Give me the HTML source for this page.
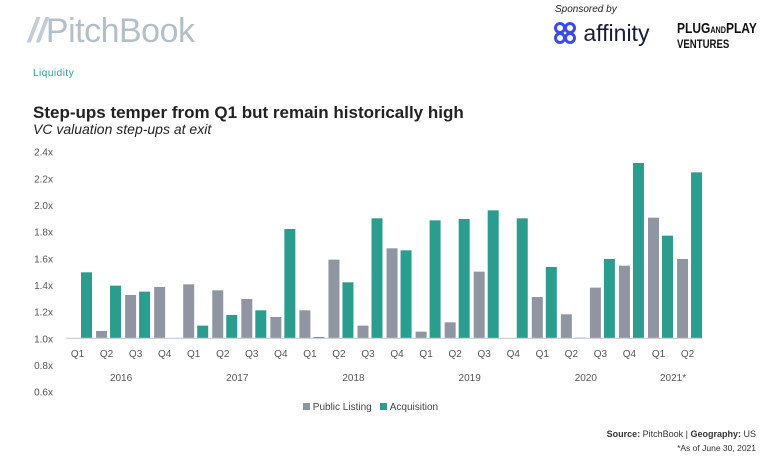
<!DOCTYPE html>
<html><head><meta charset="utf-8"><style>
body{margin:0;width:772px;height:465px;background:#fff;font-family:"Liberation Sans",sans-serif;position:relative;overflow:hidden}
.a{position:absolute;white-space:nowrap}
</style></head><body>
<div class="a" style="left:28px;top:12px;font-size:34px;color:#b4bfcc;letter-spacing:-0.5px"><span style="font-style:italic;font-weight:bold;color:#c3cbd6">//</span>PitchBook</div>
<div class="a" style="left:555px;top:4px;font-size:10px;font-style:italic;color:#222">Sponsored by</div>
<div class="a" style="left:553px;top:20px;font-size:23px;color:#1a1a3a">
<svg width="24" height="24" viewBox="0 0 24 24" style="vertical-align:-4px"><g fill="none" stroke="#3b4ce8" stroke-width="3"><circle cx="7" cy="7" r="4.5"/><circle cx="17" cy="7" r="4.5"/><circle cx="7" cy="17" r="4.5"/><circle cx="17" cy="17" r="4.5"/></g></svg> affinity</div>
<div class="a" style="left:677px;top:22px;font-size:15px;font-weight:bold;color:#111;line-height:14px;transform:scaleX(0.8);transform-origin:left">PLUG<span style="font-size:9px">AND</span>PLAY<br><span style="font-size:12px">VENTURES</span></div>
<div class="a" style="left:33px;top:68px;font-size:10px;color:#2a9d8f;letter-spacing:0.5px">Liquidity</div>
<div class="a" style="left:33px;top:103px;font-size:17px;font-weight:bold;color:#222">Step-ups temper from Q1 but remain historically high</div>
<div class="a" style="left:33px;top:121px;font-size:14px;font-style:italic;color:#222">VC valuation step-ups at exit</div>
<svg class="a" style="left:0;top:0" width="772" height="465" id="chart"></svg>
<div class="a" style="left:303px;top:402px;font-size:10px;color:#444">
<span><span style="display:inline-block;width:7px;height:7px;background:#8f96a1"></span> Public Listing</span>
<span style="margin-left:6px"><span style="display:inline-block;width:7px;height:7px;background:#2a9d8f"></span> Acquisition</span></div>
<div class="a" style="right:16px;top:429px;font-size:9px;color:#333;text-align:right"><b>Source:</b> PitchBook | <b>Geography:</b> US</div>
<div class="a" style="right:16px;top:443px;font-size:8.5px;color:#333">*As of June 30, 2021</div>
<script>
const quarters=["Q1","Q2","Q3","Q4","Q1","Q2","Q3","Q4","Q1","Q2","Q3","Q4","Q1","Q2","Q3","Q4","Q1","Q2","Q3","Q4","Q1","Q2"];
const years=["2016","2017","2018","2019","2020","2021*"];
const publicListing=[null,1.055,1.325,1.385,1.405,1.36,1.295,1.16,1.21,1.59,1.095,1.675,1.05,1.12,1.50,null,1.31,1.18,1.38,1.545,1.905,1.595];
const acquisition=[1.495,1.395,1.35,null,1.095,1.175,1.21,1.82,1.01,1.42,1.90,1.66,1.885,1.895,1.96,1.90,1.535,1.005,1.595,2.315,1.77,2.245];
const yTicks=[0.6,0.8,1.0,1.2,1.4,1.6,1.8,2.0,2.2,2.4];
const svg=document.getElementById('chart');const NS="http://www.w3.org/2000/svg";
const y=v=>338.3-(v-1)*133.3;
const step=29.05,x0=79.5;const cx=i=>x0+step*i;
function mk(t,a){const e=document.createElementNS(NS,t);for(const k in a)e.setAttribute(k,a[k]);svg.appendChild(e);return e;}
yTicks.forEach(v=>{const t=mk('text',{x:53,y:y(v)+4,'text-anchor':'end','font-size':10,fill:'#555'});t.textContent=v.toFixed(1)+'x';

});
const bw=11;
publicListing.forEach((v,i)=>{if(v==null)return;const r=mk('rect',{x:cx(i)-bw-1.5,y:y(v),width:bw,height:y(1)-y(v),fill:'#8f96a1'});

});
acquisition.forEach((v,i)=>{if(v==null)return;const r=mk('rect',{x:cx(i)+1.5,y:y(v),width:bw,height:y(1)-y(v),fill:'#2a9d8f'});

});
const bl=mk('line',{x1:66,x2:701,y1:y(1),y2:y(1),stroke:'#c9cdd2','stroke-width':1.2});


quarters.forEach((q,i)=>{const t=mk('text',{x:cx(i)-2,y:357,'text-anchor':'middle','font-size':10,fill:'#555'});t.textContent=q;

});
years.forEach((yr,j)=>{const n=j<5?4:2;const c=(cx(j*4)+cx(j*4+n-1))/2-2;const t=mk('text',{x:c,y:381,'text-anchor':'middle','font-size':10,fill:'#555'});t.textContent=yr;

});
</script>
</body></html>
